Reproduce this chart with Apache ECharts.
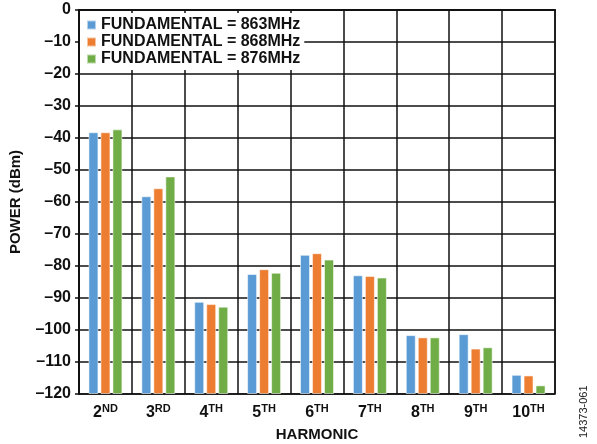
<!DOCTYPE html>
<html>
<head>
<meta charset="utf-8">
<script src="https://cdn.jsdelivr.net/npm/echarts@6/dist/echarts.min.js"></script>
<style>
  html, body { margin: 0; padding: 0; background: #fff; }
  #chart { width: 597px; height: 444px; }
</style>
</head>
<body>
<div id="chart"></div>
<script>
// harmonic order, number part + superscript part
const harmonicNums = ['2', '3', '4', '5', '6', '7', '8', '9', '10']
const harmonicSups = ['ND', 'RD', 'TH', 'TH', 'TH', 'TH', 'TH', 'TH', 'TH']

const seriesNames = ['FUNDAMENTAL = 863MHz', 'FUNDAMENTAL = 868MHz', 'FUNDAMENTAL = 876MHz']
// power in dBm
const power863 = [-38.2, -58.2, -91.2, -82.5, -76.5, -82.9, -101.6, -101.3, -114.0]
const power868 = [-38.2, -55.7, -91.9, -81.0, -76.0, -83.1, -102.3, -105.8, -114.2]
const power876 = [-37.3, -52.0, -92.7, -82.1, -78.0, -83.6, -102.3, -105.4, -117.3]

const colors = ['#5b9bd5', '#ed7d31', '#70ad47']
const font = 'Liberation Sans, Arial, sans-serif'

const myChart = echarts.init(document.getElementById('chart'))

const categories = harmonicNums.map((n, i) => n + '|' + harmonicSups[i])

const option = {
  animation: false,
  color: colors,
  textStyle: { fontFamily: font },
  grid: {
    left: 79, right: 42, top: 10, bottom: 50,
    outerBoundsMode: 'none',
    containLabel: false,
    show: true, borderColor: '#111', borderWidth: 1.5
  },
  legend: {
    orient: 'vertical',
    left: 80, top: 13,
    itemWidth: 9, itemHeight: 9, itemGap: 1,
    padding: [4, 4, 3, 6],
    backgroundColor: '#fff',
    icon: 'rect',
    textStyle: { fontFamily: font, fontWeight: 'bold', fontSize: 16, lineHeight: 16, color: '#111' },
    data: seriesNames
  },
  xAxis: {
    type: 'category',
    data: categories,
    name: 'HARMONIC',
    nameLocation: 'middle',
    nameGap: 33,
    nameTextStyle: { fontFamily: font, fontWeight: 'bold', fontSize: 15, color: '#111' },
    axisLine: { lineStyle: { color: '#111', width: 2 } },
    axisTick: { show: false },
    splitLine: { show: true, interval: 0, lineStyle: { color: '#111', width: 1.5 } },
    axisLabel: {
      interval: 0,
      margin: 9,
      formatter: function (v) {
        const p = v.split('|')
        return '{n|' + p[0] + '}{s|' + p[1] + '}'
      },
      rich: {
        n: { fontFamily: font, fontWeight: 'bold', fontSize: 16, color: '#111', verticalAlign: 'bottom', lineHeight: 18 },
        s: { fontFamily: font, fontWeight: 'bold', fontSize: 11, color: '#111', verticalAlign: 'top', lineHeight: 18, padding: [0, 0, 7, 0] }
      }
    }
  },
  yAxis: {
    type: 'value',
    min: -120, max: 0, interval: 10,
    startValue: -120,
    name: 'POWER (dBm)',
    nameLocation: 'middle',
    nameGap: 56,
    nameTextStyle: { fontFamily: font, fontWeight: 'bold', fontSize: 15, color: '#111' },
    axisLine: { show: true, lineStyle: { color: '#111', width: 2 } },
    axisTick: { show: true, length: 4, lineStyle: { color: '#111', width: 1.5 } },
    splitLine: { show: true, lineStyle: { color: '#111', width: 1.5 } },
    axisLabel: {
      margin: 8,
      fontFamily: font, fontWeight: 'bold', fontSize: 16, color: '#111',
      formatter: v => String(v).replace('-', '\u2013')
    }
  },
  series: [power863, power868, power876].map((d, i) => ({
    name: seriesNames[i],
    type: 'bar',
    data: d,
    barWidth: 10,
    barGap: '20%',
    itemStyle: { color: colors[i], borderColor: 'rgba(255,255,255,0.55)', borderWidth: 1 }
  })),
  graphic: [{
    type: 'text',
    x: 584, y: 438,
    rotation: Math.PI / 2,
    style: { text: '14373-061', fontFamily: font, fontSize: 11, fill: '#222', textAlign: 'left', textVerticalAlign: 'middle' }
  }]
}

myChart.setOption(option)
</script>
</body>
</html>
